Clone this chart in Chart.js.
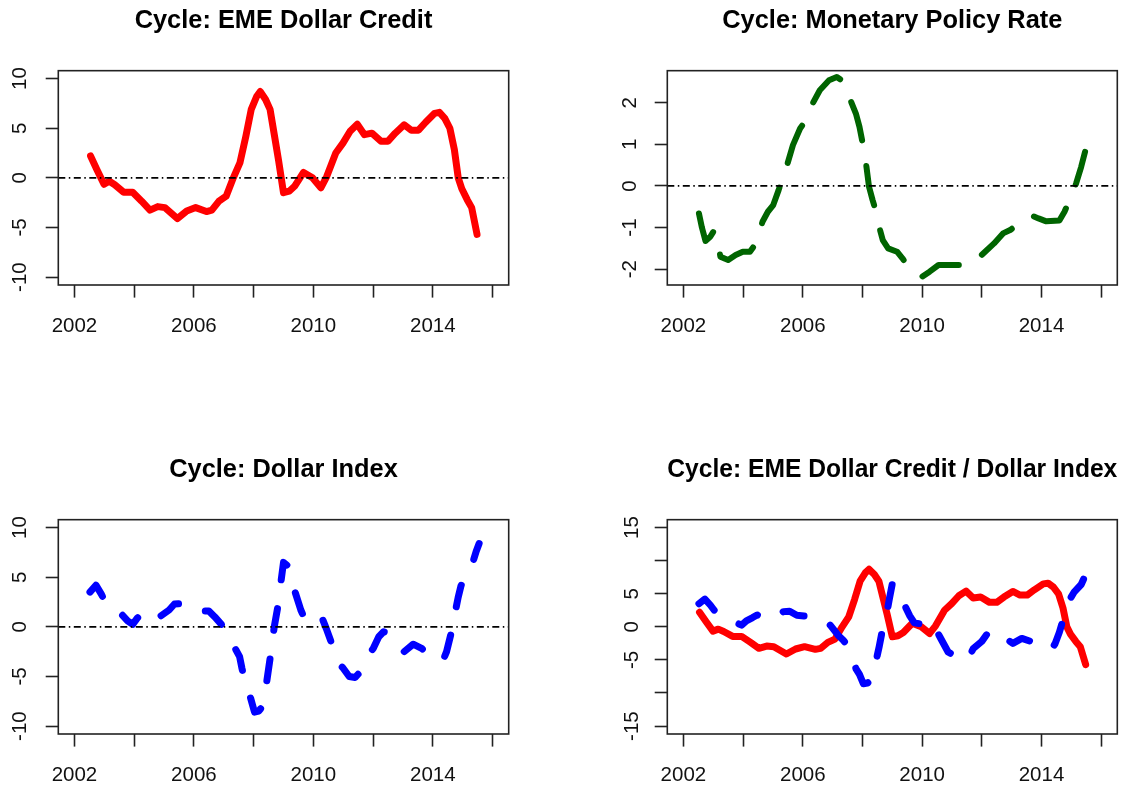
<!DOCTYPE html>
<html>
<head>
<meta charset="utf-8">
<script src="https://cdn.jsdelivr.net/npm/chart.js@4.4.1/dist/chart.umd.min.js"></script>
<style>
html,body{margin:0;padding:0;background:#fff;}
#wrap{position:relative;width:1126px;height:787px;overflow:hidden;background:#fff;}
canvas{position:absolute;}
</style>
</head>
<body>
<div id="wrap">
<canvas id="c1" width="563" height="449" style="left:0;top:0"></canvas>
<canvas id="c2" width="563" height="449" style="left:563px;top:0"></canvas>
<canvas id="c3" width="563" height="338" style="left:0;top:449px"></canvas>
<canvas id="c4" width="563" height="338" style="left:563px;top:449px"></canvas>
</div>
<script>
// EME dollar credit cycle (red)
const creditYears = [2002.54,2002.75,2002.99,2003.17,2003.35,2003.65,2003.95,2004.25,2004.53,2004.79,
  2005.03,2005.45,2005.76,2006.06,2006.42,2006.6,2006.84,2007.08,2007.32,2007.54,
  2007.74,2007.92,2008.1,2008.22,2008.4,2008.55,2008.7,2008.83,2009.0,2009.19,
  2009.37,2009.67,2009.97,2010.25,2010.45,2010.75,2010.99,2011.23,2011.47,2011.71,
  2011.96,2012.26,2012.5,2012.74,2013.04,2013.28,2013.52,2013.76,2014.06,2014.22,
  2014.4,2014.57,2014.72,2014.85,2014.97,2015.15,2015.3,2015.48];
const creditValues = [2.2,0.85,-0.65,-0.35,-0.7,-1.45,-1.45,-2.35,-3.25,-2.9,
  -3.0,-4.1,-3.35,-3.0,-3.4,-3.25,-2.35,-1.85,0.0,1.5,
  4.2,6.9,8.2,8.7,7.9,6.9,4.2,1.85,-1.5,-1.35,
  -0.85,0.55,0.0,-1.0,0.15,2.5,3.5,4.7,5.4,4.35,
  4.5,3.7,3.7,4.5,5.35,4.8,4.8,5.6,6.5,6.6,
  6.0,5.0,2.85,0.0,-1.1,-2.2,-3.0,-5.7];

// monetary policy rate cycle (green)
const rateYears = [2002.52,2002.62,2002.74,2002.9,2003.02,2003.12,2003.24,2003.5,2003.75,2003.99,
  2004.23,2004.35,2004.47,2004.65,2004.83,2005.01,2005.19,2005.37,2005.49,2005.67,
  2005.91,2006.09,2006.33,2006.57,2006.88,2007.14,2007.38,2007.6,2007.78,2007.9,
  2008.02,2008.12,2008.22,2008.34,2008.44,2008.56,2008.68,2008.86,2009.16,2009.34,
  2009.46,2009.64,2009.82,2010.0,2010.25,2010.55,2010.85,2011.27,2011.55,2011.81,
  2012.11,2012.41,2012.71,2012.95,2013.2,2013.45,2013.7,2013.9,2014.16,2014.6,
  2014.77,2014.99,2015.16,2015.33,2015.46];
const rateValues = [-0.66,-1.0,-1.32,-1.22,-1.08,-1.23,-1.7,-1.78,-1.66,-1.58,
  -1.58,-1.46,-1.3,-0.86,-0.62,-0.46,-0.1,0.3,0.54,0.98,
  1.38,1.56,1.98,2.3,2.54,2.62,2.5,2.06,1.74,1.42,
  0.98,0.54,-0.02,-0.34,-0.58,-0.98,-1.3,-1.5,-1.58,-1.74,
  -1.86,-2.0,-2.14,-2.18,-2.06,-1.9,-1.9,-1.9,-1.86,-1.78,
  -1.58,-1.38,-1.14,-1.06,-0.92,-0.82,-0.72,-0.78,-0.85,-0.83,
  -0.62,-0.26,0.06,0.46,0.82];

// dollar index cycle (blue)
const dollarYears = [2002.52,2002.72,2002.9,2003.0,2003.12,2003.35,2003.6,2003.78,2003.95,2004.11,
  2004.32,2004.47,2004.68,2004.87,2005.17,2005.35,2005.56,2005.8,2006.16,2006.5,
  2006.7,2006.92,2007.19,2007.35,2007.53,2007.61,2007.79,2007.9,2008.03,2008.17,
  2008.3,2008.44,2008.56,2008.69,2008.82,2008.9,2009.0,2009.12,2009.25,2009.4,
  2009.58,2009.74,2009.95,2010.14,2010.29,2010.43,2010.61,2010.87,2010.98,2011.2,
  2011.4,2011.58,2011.71,2012.0,2012.19,2012.35,2012.49,2012.75,2013.04,2013.34,
  2013.64,2013.85,2014.1,2014.34,2014.46,2014.6,2014.75,2014.85,2014.94,2015.1,
  2015.33,2015.45,2015.55];
const dollarValues = [3.5,4.2,3.3,2.7,2.0,1.55,1.2,0.6,0.25,0.9,
  1.4,1.8,1.3,1.05,1.7,2.3,2.35,1.75,1.6,1.6,
  1.0,0.25,-1.3,-2.0,-3.0,-4.2,-6.4,-7.2,-8.6,-8.5,
  -8.0,-5.5,-3.0,0.0,2.2,4.2,6.5,6.2,4.8,3.4,
  1.7,0.6,0.45,0.45,0.9,-0.15,-1.65,-3.8,-4.1,-5.0,
  -5.1,-4.5,-3.3,-2.2,-1.0,-0.5,-0.55,-1.6,-2.5,-1.75,
  -2.2,-2.8,-3.3,-3.4,-2.5,-0.8,1.5,3.0,4.1,5.3,
  6.4,7.6,8.4];

// axes
const xRange = [2001.46, 2016.54];
const xTicks = [2002,2004,2006,2008,2010,2012,2014,2016];
const xLabelYears = [2002,2006,2010,2014];
const creditTicks = [-10,-5,0,5,10];
const rateTicks = [-2,-1,0,1,2];
const comboTicks = [-15,-10,-5,0,5,10,15];
const comboLabels = [-15,-5,0,5,15];

Chart.defaults.font.family = '"Liberation Sans", Arial, sans-serif';
Chart.defaults.color = '#111';

const toPoints = (xs, ys) => xs.map((x, i) => ({x: x, y: ys[i]}));

const zeroLine = {
  data: [{x: xRange[0], y: 0}, {x: xRange[1], y: 0}],
  borderColor: '#000', borderWidth: 1.7, borderDash: [7,3.5,1.5,3.5],
  borderCapStyle: 'butt', pointRadius: 0
};

const boxPlugin = {
  id: 'box',
  afterDraw(chart){
    const a = chart.chartArea, c = chart.ctx;
    c.save();
    c.strokeStyle = '#222';
    c.lineWidth = 1.6;
    c.strokeRect(a.left, a.top, a.right - a.left, a.bottom - a.top);
    c.restore();
  }
};

function makePanel(id, opt){
  const canvas = document.getElementById(id);
  const W = canvas.width, H = canvas.height;
  new Chart(canvas, {
    type: 'line',
    data: {datasets: opt.datasets},
    options: {
      responsive: false, animation: false, devicePixelRatio: 1, events: [],
      layout: {autoPadding: false, padding: {left: 0, top: 0, bottom: 0, right: W - opt.right}},
      elements: {line: {tension: 0, borderJoinStyle: 'round', borderCapStyle: 'round'}, point: {radius: 0}},
      plugins: {
        legend: {display: false},
        tooltip: {enabled: false},
        title: {display: true, text: opt.title, fullSize: false, color: '#000',
          font: {size: 25.4, weight: 'bold', lineHeight: 1.2}, padding: {top: 6, bottom: 34.2}}
      },
      scales: {
        x: {
          type: 'linear', min: xRange[0], max: xRange[1],
          afterBuildTicks: s => { s.ticks = xTicks.map(v => ({value: v})); },
          afterFit: s => { s.height = H - 285; },
          grid: {drawOnChartArea: false, tickLength: 12.6, tickColor: '#222', tickWidth: 1.6},
          border: {display: false},
          ticks: {autoSkip: false, minRotation: 0, maxRotation: 0, padding: 16.4, color: '#111',
            font: {size: 20.5}, callback: v => xLabelYears.includes(v) ? String(v) : ''}
        },
        y: {
          type: 'linear', min: opt.yRange[0], max: opt.yRange[1],
          afterBuildTicks: s => { s.ticks = opt.yTicks.map(v => ({value: v})); },
          afterFit: s => { s.width = opt.left; },
          grid: {drawOnChartArea: false, tickLength: 12.6, tickColor: '#222', tickWidth: 1.6},
          border: {display: false},
          ticks: {autoSkip: false, minRotation: 90, maxRotation: 90, crossAlign: 'center',
            padding: opt.yPad, color: '#111', font: {size: 20.5},
            callback: v => opt.yLabels.includes(v) ? String(v) : ''}
        }
      }
    },
    plugins: [boxPlugin]
  });
}

window.addEventListener('load', ()=>{
  // Cycle: EME Dollar Credit
  makePanel('c1', {
    title: 'Cycle: EME Dollar Credit', left: 58.3, right: 508.7,
    yRange: [-10.8, 10.8], yTicks: creditTicks, yLabels: creditTicks, yPad: 10.1,
    datasets: [zeroLine, {data: toPoints(creditYears, creditValues), borderColor: '#ff0000', borderWidth: 7}]
  });

  // Cycle: Monetary Policy Rate
  makePanel('c2', {
    title: 'Cycle: Monetary Policy Rate', left: 104.3, right: 554.3,
    yRange: [-2.38, 2.77], yTicks: rateTicks, yLabels: rateTicks, yPad: 15.6,
    datasets: [zeroLine, {data: toPoints(rateYears, rateValues), borderColor: '#006400', borderWidth: 6, borderDash: [40, 26]}]
  });

  // Cycle: Dollar Index
  makePanel('c3', {
    title: 'Cycle: Dollar Index', left: 58.3, right: 508.7,
    yRange: [-10.8, 10.8], yTicks: creditTicks, yLabels: creditTicks, yPad: 10.1,
    datasets: [zeroLine, {data: toPoints(dollarYears, dollarValues), borderColor: '#0000ff', borderWidth: 7, borderDash: [22, 29]}]
  });

  // Cycle: EME Dollar Credit / Dollar Index
  makePanel('c4', {
    title: 'Cycle: EME Dollar Credit / Dollar Index', left: 104.3, right: 554.3,
    yRange: [-16.2, 16.2], yTicks: comboTicks, yLabels: comboLabels, yPad: 7.4,
    datasets: [
      {data: toPoints(dollarYears, dollarValues), borderColor: '#0000ff', borderWidth: 7, borderDash: [22, 29]},
      {data: toPoints(creditYears, creditValues), borderColor: '#ff0000', borderWidth: 7}
    ]
  });
});
</script>
</body>
</html>
